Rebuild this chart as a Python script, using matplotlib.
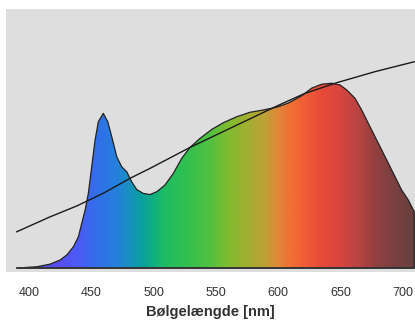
import numpy as np
import matplotlib
matplotlib.use("Agg")
import matplotlib.pyplot as plt
from matplotlib.colors import LinearSegmentedColormap
from matplotlib.patches import Polygon

plt.rcParams["font.family"] = ["Liberation Sans", "DejaVu Sans"]

# spectrum (relative, red peak = 1)
wl = [390.1, 406.2, 416.9, 424.9, 430.3, 435.6, 439.6, 442.3, 445.0, 447.6,
      450.3, 453.0, 455.6, 459.6, 463.2, 466.4, 470.4, 474.4, 478.4, 482.4,
      486.4, 491.7, 497.1, 502.5, 509.1, 515.8, 522.6, 529.2, 537.2, 546.6,
      555.9, 566.7, 577.4, 588.0, 598.8, 608.1, 618.9, 626.9, 634.9, 643.0,
      649.6, 655.0, 661.6, 667.0, 675.0, 683.1, 691.1, 699.1, 704.4, 709.2,
      709.2]
spec = [0.0, 0.007, 0.021, 0.043, 0.070, 0.114, 0.167, 0.239, 0.310, 0.399,
        0.542, 0.684, 0.782, 0.827, 0.782, 0.702, 0.595, 0.541, 0.515, 0.461,
        0.420, 0.399, 0.393, 0.408, 0.444, 0.506, 0.587, 0.645, 0.693, 0.741,
        0.777, 0.809, 0.833, 0.845, 0.860, 0.882, 0.921, 0.962, 0.983, 0.988,
        0.979, 0.952, 0.908, 0.845, 0.738, 0.631, 0.524, 0.417, 0.364, 0.301,
        0.0]

# black reference curve
line_wl = [390.1, 416.9, 438.3, 459.6, 481.1, 497.1, 529.2, 598.8, 621.5,
           647.0, 677.7, 709.2]
line_v = [0.194, 0.274, 0.332, 0.400, 0.480, 0.533, 0.645, 0.866, 0.934,
          0.991, 1.050, 1.103]

# colour of the fill along the wavelength axis
stop_wl = [389, 400, 425, 440, 455, 470, 480, 490, 500, 510, 525, 545, 560,
           575, 590, 600, 610, 620, 635, 650, 665, 680, 695, 710]
stop_col = ["#3c3c9c", "#5048d8", "#5850f0", "#4a5cf5", "#3070e8", "#2580dc",
            "#1a90c0", "#08a0a0", "#10b080", "#20bc60", "#30c050", "#50c040",
            "#80bc30", "#a0b030", "#c0a038", "#e08838", "#f07035", "#f26035",
            "#e84a38", "#d84540", "#b84442", "#904040", "#784040", "#684040"]

xmin, xmax = 381.5, 709.8
ymin, ymax = -0.021, 1.385

fig = plt.figure(figsize=(4.15, 3.2), dpi=100)
ax = fig.add_axes([6 / 415, 1 - 272 / 320, 409 / 415, 263 / 320])
ax.set_facecolor("#dedede")
for s in ax.spines.values():
    s.set_visible(False)

pos = [(w - stop_wl[0]) / (stop_wl[-1] - stop_wl[0]) for w in stop_wl]
cmap = LinearSegmentedColormap.from_list("spec", list(zip(pos, stop_col)))
grad = np.linspace(0, 1, 600).reshape(1, -1)
im = ax.imshow(grad, cmap=cmap, aspect="auto",
               extent=[stop_wl[0], stop_wl[-1], 0, 1.05], zorder=1)
poly = Polygon(list(zip(wl, spec)), closed=True, facecolor="none",
               edgecolor="#222222", lw=0.9, joinstyle="round", zorder=2)
ax.add_patch(poly)
im.set_clip_path(poly)

ax.plot([wl[0], wl[-1]], [0, 0], color="#333333", lw=1.2, zorder=3)
ax.plot(line_wl, line_v, color="#1a1a1a", lw=1.0, zorder=4)

ax.set_xlim(xmin, xmax)
ax.set_ylim(ymin, ymax)
ax.set_yticks([])
ax.set_xticks([400, 450, 500, 550, 600, 650, 700])
ax.tick_params(axis="x", length=0, pad=11, labelsize=9, labelcolor="#333333")
ax.set_xlabel("Bølgelængde [nm]", fontsize=10.5, fontweight="bold",
              color="#333333", labelpad=4)

fig.savefig("out.png", dpi=100, facecolor="white")
